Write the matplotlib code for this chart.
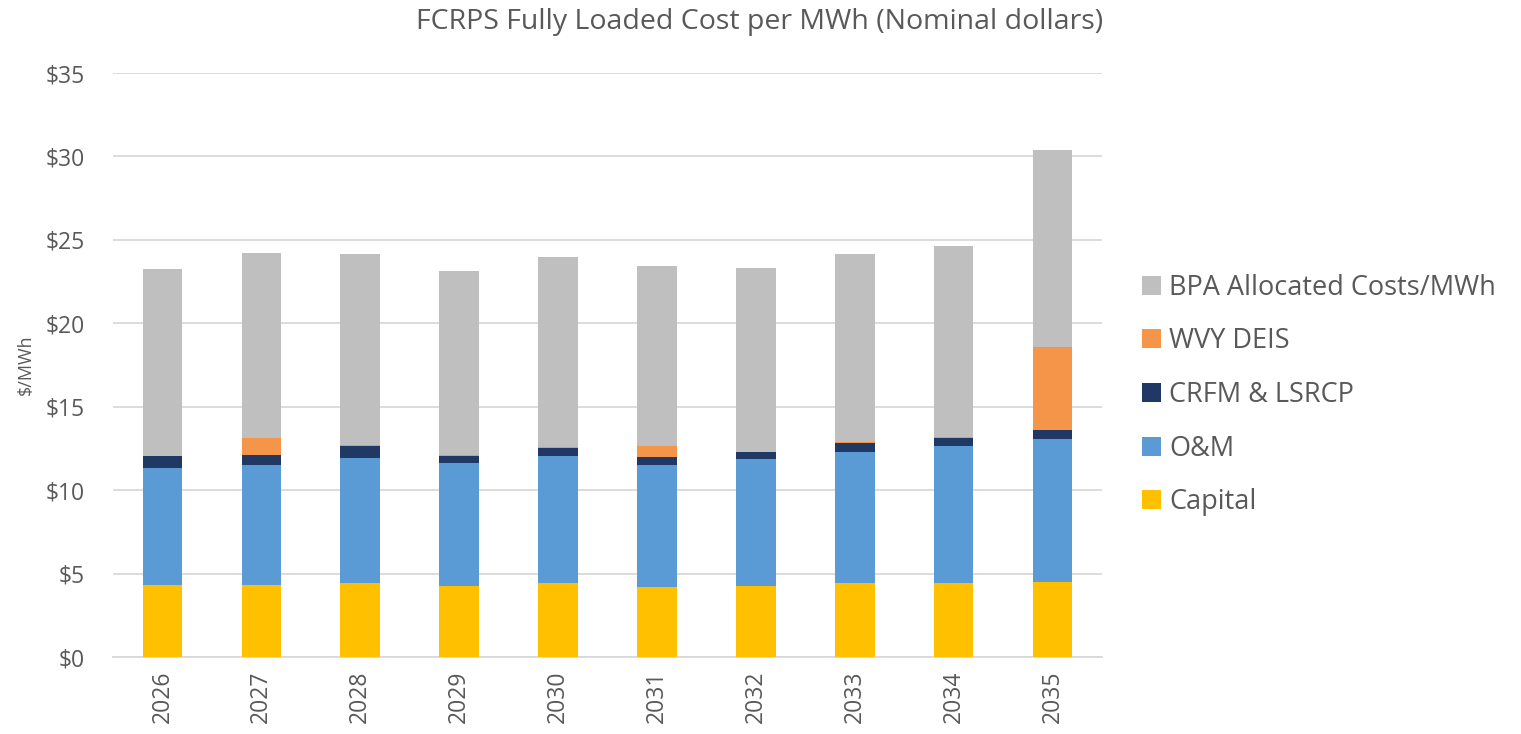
import matplotlib
matplotlib.use('Agg')
import matplotlib.pyplot as plt
import numpy as np

plt.rcParams['font.family'] = ['Open Sans', 'DejaVu Sans']

years = ['2026', '2027', '2028', '2029', '2030', '2031', '2032', '2033', '2034', '2035']
capital = [4.31, 4.31, 4.45, 4.25, 4.41, 4.17, 4.25, 4.41, 4.41, 4.51]
om = [6.99, 7.19, 7.45, 7.35, 7.65, 7.33, 7.59, 7.89, 8.25, 8.53]
crfm = [0.74, 0.60, 0.76, 0.46, 0.48, 0.46, 0.46, 0.50, 0.44, 0.56]
wvy = [0.0, 1.04, 0.05, 0.03, 0.04, 0.70, 0.0, 0.08, 0.08, 4.97]
bpa = [11.19, 11.08, 11.46, 11.06, 11.37, 10.77, 10.99, 11.29, 11.45, 11.79]

series = [
    ('Capital', capital, '#FFC000'),
    ('O&M', om, '#5B9BD5'),
    ('CRFM & LSRCP', crfm, '#1F3864'),
    ('WVY DEIS', wvy, '#F4954A'),
    ('BPA Allocated Costs/MWh', bpa, '#BFBFBF'),
]

txt = '#595959'
fig = plt.figure(figsize=(15.21, 7.34), dpi=100)
ax = fig.add_axes([113/1521, 1-657/734, (1102-113)/1521, (657-73)/734])

x = np.arange(len(years))
bottom = np.zeros(len(years))
for name, vals, col in series:
    ax.bar(x, vals, 0.4, bottom=bottom, color=col, label=name, zorder=3)
    bottom += np.array(vals)

ax.set_xlim(-0.5, len(years) - 0.5)
ax.set_ylim(0, 35)
ax.set_yticks(range(0, 36, 5))
ax.set_yticklabels(['$%d' % v for v in range(0, 36, 5)], fontsize=16.5, color=txt)
ax.set_xticks(x)
ax.set_xticklabels(years, rotation=90, fontsize=16.5, color=txt)
ax.tick_params(axis='x', length=0, pad=10)
ax.tick_params(axis='y', length=0, pad=20)
ax.yaxis.grid(True, color='#D9D9D9', linewidth=1.3, zorder=0)
for s in ['top', 'right', 'left']:
    ax.spines[s].set_visible(False)
ax.spines['bottom'].set_color('#D9D9D9')
ax.spines['bottom'].set_linewidth(1.3)
ax.set_ylabel('$/MWh', fontsize=13, color=txt, labelpad=8)

h, l = ax.get_legend_handles_labels()
fig.legend(h[::-1], l[::-1], loc='center left', bbox_to_anchor=(1118/1521, 1-395/734),
           frameon=False, fontsize=19.5, labelcolor=txt, handlelength=0.7, handleheight=0.7,
           handletextpad=0.3, labelspacing=0.95)

fig.suptitle('FCRPS Fully Loaded Cost per MWh (Nominal dollars)', x=760/1521, y=1-22/734,
             va='center', fontsize=20.5, color=txt)

fig.savefig('out.png', dpi=100)
